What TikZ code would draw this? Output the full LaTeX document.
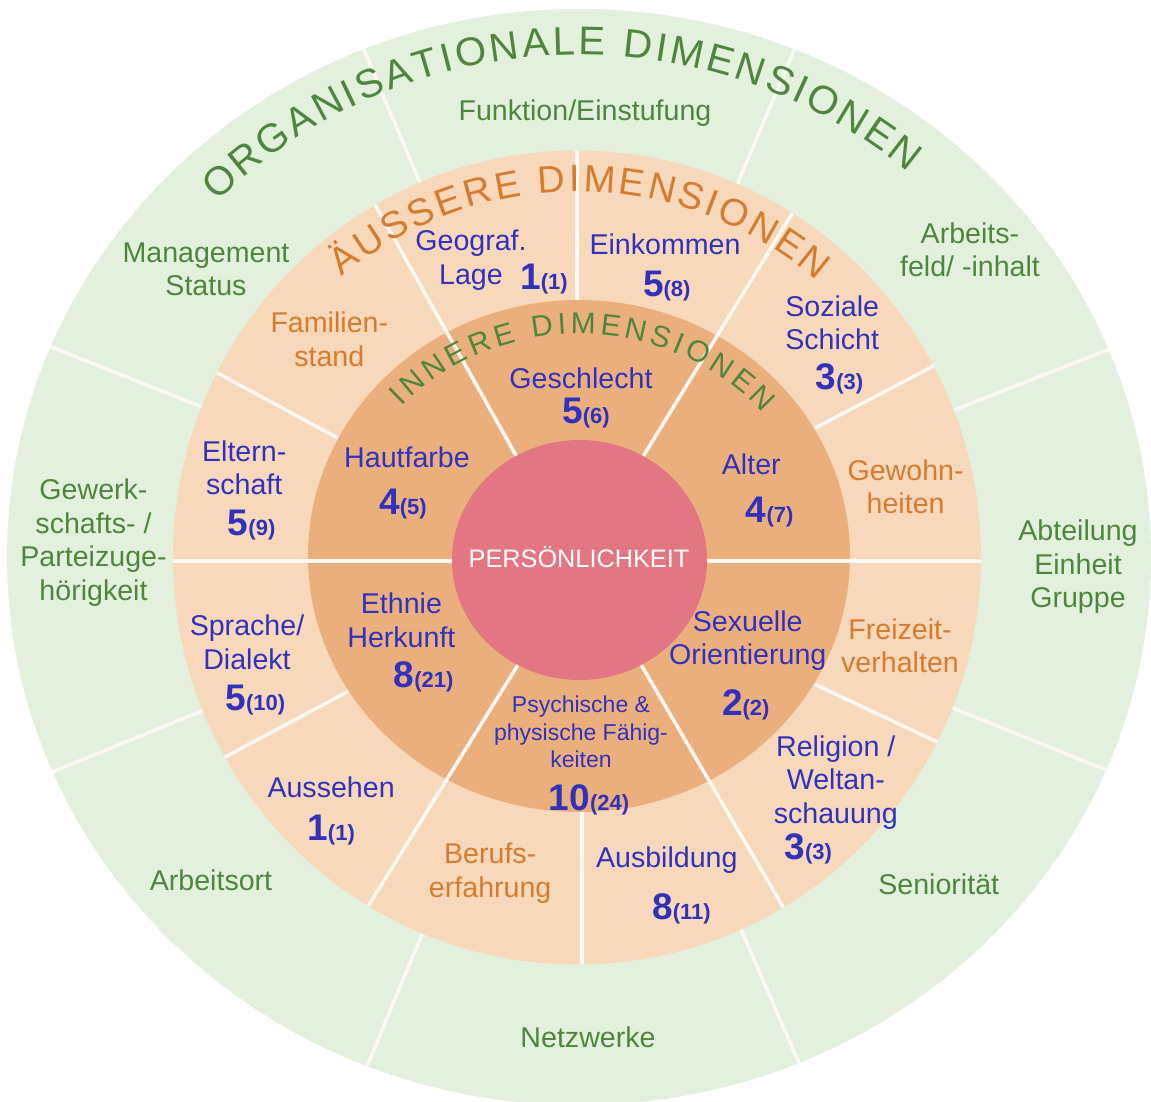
\documentclass[tikz,border=0pt]{standalone}
\usepackage{fontspec}
\setmainfont{Liberation Sans}
\usetikzlibrary{calc,decorations.text}

\definecolor{orgfill}{RGB}{227,240,222}
\definecolor{extfill}{RGB}{248,216,187}
\definecolor{intfill}{RGB}{235,175,126}
\definecolor{corefill}{RGB}{226,118,130}
\definecolor{sepwhite}{RGB}{252,249,245}
\definecolor{orggreen}{RGB}{78,134,60}
\definecolor{extorange}{RGB}{214,124,46}
\definecolor{dimblue}{RGB}{48,50,188}

\newcommand{\pxfont}[2]{\fontsize{#1}{#2}\selectfont}
\newcommand{\dimscore}[2]{{\pxfont{37}{37}\bfseries #1}{\pxfont{22}{22}\bfseries(#2)}}

\tikzset{
  divider/.style={draw=sepwhite, line width=3.5pt},
  lbl/.style={align=center, inner sep=0pt, font=\pxfont{28.6}{33.5}},
  orglbl/.style={lbl, text=orggreen},
  extlbl/.style={lbl, text=extorange},
  dimlbl/.style={lbl, text=dimblue},
  scorelbl/.style={inner sep=0pt, text=dimblue},
}

\begin{document}
\begin{tikzpicture}[x=1pt,y=-1pt]
\useasboundingbox (0,0) rectangle (1151,1102);

\coordinate (C) at (579,557);
\coordinate (M) at (577,557.5);
\coordinate (I) at (579,556);
\coordinate (P) at (579.5,560);

% organisational ring
\fill[orgfill] (C) ellipse[x radius=572pt, y radius=548pt];
\begin{scope}
  \clip (C) ellipse[x radius=572pt, y radius=548pt];
  \foreach \ang in {21.4,67,113,158.3,202.2,247.4,293.5,338}
    \draw[divider] (C) -- ++(\ang:700pt);
\end{scope}

% external ring
\fill[extfill] (M) ellipse[x radius=404pt, y radius=407pt];
\begin{scope}
  \clip (M) ellipse[x radius=404pt, y radius=407pt];
  \draw[divider] (577,380) -- (577,100);
  \draw[divider] (582,740) -- (582,1010);
  \draw[divider] ($(817.5,426.8)!-0.5!(933.2,366.1)$) -- ($(817.5,426.8)!1.6!(933.2,366.1)$);
  \draw[divider] ($(817.5,685.6)!-0.5!(936.9,741.9)$) -- ($(817.5,685.6)!1.6!(936.9,741.9)$);
  \draw[divider] ($(345.9,692.6)!-0.5!(223.8,757.7)$) -- ($(345.9,692.6)!1.6!(223.8,757.7)$);
  \draw[divider] ($(336.7,437.5)!-0.5!(214.6,371.4)$) -- ($(336.7,437.5)!1.6!(214.6,371.4)$);
\end{scope}

% internal ring
\fill[intfill] (I) ellipse[x radius=271pt, y radius=256pt];
\begin{scope}
  \clip (M) ellipse[x radius=404pt, y radius=407pt];
  \draw[divider] (150,561) -- (1010,561);
  \draw[divider] ($(516,455.4)!-0.3!(375.5,205.4)$) -- ($(516,455.4)!1.4!(375.5,205.4)$);
  \draw[divider] ($(644.8,453.6)!-0.3!(791.7,214.3)$) -- ($(644.8,453.6)!1.4!(791.7,214.3)$);
  \draw[divider] ($(516,668)!-0.3!(366.3,909.2)$) -- ($(516,668)!1.4!(366.3,909.2)$);
  \draw[divider] ($(643,668)!-0.3!(784.4,909.2)$) -- ($(643,668)!1.4!(784.4,909.2)$);
\end{scope}

% core
\fill[corefill] (P) ellipse[x radius=127.5pt, y radius=120pt];

% ring titles
\path[decorate, decoration={text along path, text align={fit to path}, text color=orggreen,
    text={|\pxfont{40}{40}|ORGANISATIONALE DIMENSIONEN}}]
  ($(C)+(134.9:512pt and 502pt)$) arc[start angle=134.9, end angle=50, x radius=512pt, y radius=502pt];
\path[decorate, decoration={text along path, text align={fit to path}, text color=extorange,
    text={|\pxfont{38}{38}|ÄUSSERE DIMENSIONEN}}]
  ($(M)+(130:366pt)$) arc[start angle=130, end angle=49.1, radius=366pt];
\path[decorate, decoration={text along path, text align={fit to path}, text color=orggreen,
    text={|\pxfont{30}{30}|INNERE DIMENSIONEN}}]
  ($(I)+(137.7:240pt and 222pt)$) arc[start angle=137.7, end angle=40, x radius=240pt, y radius=222pt];

% organisational dimensions
\node[orglbl] (funk) at (585,113) {Funktion/Einstufung};
\node[orglbl] (mgmt) at (206,269.3) {Management\\Status};
\node[orglbl] (feld) at (970,250) {Arbeits-\\feld/ -inhalt};
\node[orglbl] (gew)  at (93.5,542.5) {Gewerk-\\schafts- /\\Parteizuge-\\hörigkeit};
\node[orglbl] (abt)  at (1078,567) {Abteilung\\Einheit\\Gruppe};
\node[orglbl] (ort)  at (211,880) {Arbeitsort};
\node[orglbl] (netz) at (588,1037) {Netzwerke};
\node[orglbl] (sen)  at (938.7,884) {Seniorität};

% external dimensions
\node[dimlbl] (geo) at (471,260) {Geograf.\\Lage};
\node[scorelbl] (geoS) at (544,279) {\dimscore{1}{1}};
\node[dimlbl] (eink) at (665,244.6) {Einkommen};
\node[scorelbl] (einkS) at (666.8,285.7) {\dimscore{5}{8}};
\node[dimlbl] (soz) at (832.2,322.9) {Soziale\\Schicht};
\node[scorelbl] (sozS) at (839.5,379.3) {\dimscore{3}{3}};
\node[extlbl] (fam) at (329.3,339.3) {Familien-\\stand};
\node[extlbl] (gewohn) at (905.6,486.6) {Gewohn-\\heiten};
\node[dimlbl] (eltern) at (244.2,467.9) {Eltern-\\schaft};
\node[scorelbl] (elternS) at (251.6,525) {\dimscore{5}{9}};
\node[extlbl] (frei) at (900,646) {Freizeit-\\verhalten};
\node[dimlbl] (sprache) at (247,642.5) {Sprache/\\Dialekt};
\node[scorelbl] (spracheS) at (255.3,699.6) {\dimscore{5}{10}};
\node[dimlbl] (rel) at (835.8,782.5) {Religion /\\Weltan-\\schauung};
\node[scorelbl] (relS) at (808.3,849.3) {\dimscore{3}{3}};
\node[dimlbl] (auss) at (331.1,787.7) {Aussehen};
\node[scorelbl] (aussS) at (331.1,830) {\dimscore{1}{1}};
\node[extlbl] (beruf) at (490.2,873) {Berufs-\\erfahrung};
\node[dimlbl] (ausb) at (666.8,860.5) {Ausbildung};
\node[scorelbl] (ausbS) at (681.5,909.2) {\dimscore{8}{11}};

% internal dimensions
\node[dimlbl] (geschl) at (581,378.3) {Geschlecht};
\node[scorelbl] (geschlS) at (586,413.3) {\dimscore{5}{6}};
\node[dimlbl] (haut) at (407,457) {Hautfarbe};
\node[scorelbl] (hautS) at (403,503.6) {\dimscore{4}{5}};
\node[dimlbl] (alter) at (751.3,464.3) {Alter};
\node[scorelbl] (alterS) at (769.7,512.5) {\dimscore{4}{7}};
\node[dimlbl] (ethnie) at (401.4,620.4) {Ethnie\\Herkunft};
\node[scorelbl] (ethnieS) at (423.6,676.8) {\dimscore{8}{21}};
\node[dimlbl] (sex) at (747.7,640.7) {Sexuelle\\Orientierung};
\node[scorelbl] (sexS) at (745.8,704.9) {\dimscore{2}{2}};
\node[dimlbl, font=\pxfont{23}{27.5}] (psych) at (581,732) {Psychische \&\\physische Fähig-\\keiten};
\node[scorelbl] (psychS) at (589,800) {\dimscore{10}{24}};

% core
\node[inner sep=0pt, text=white, font=\pxfont{25.3}{25.3}] (pers) at (579,557) {PERSÖNLICHKEIT};
\end{tikzpicture}
\end{document}
